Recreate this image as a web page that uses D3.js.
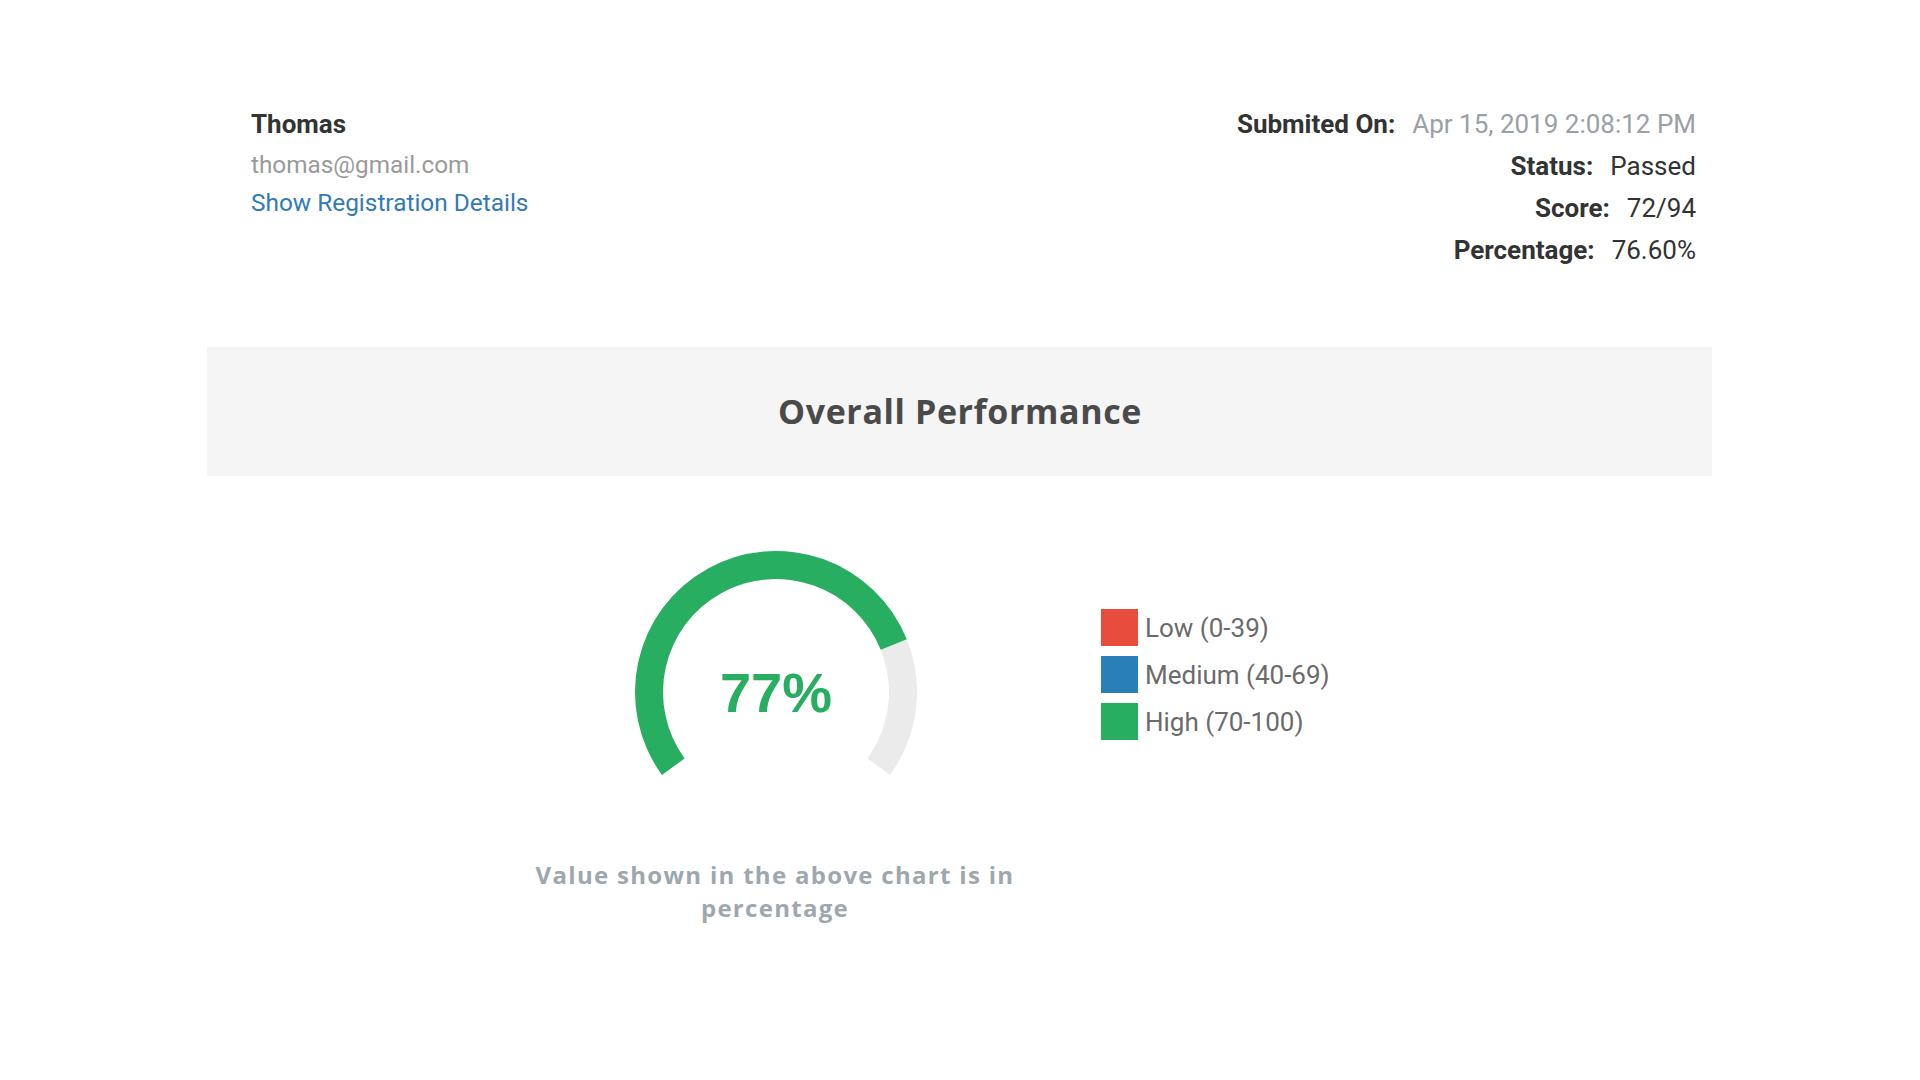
<!DOCTYPE html>
<html>
<head>
<meta charset="utf-8">
<script src="https://cdnjs.cloudflare.com/ajax/libs/d3/7.8.5/d3.min.js"></script>
<style>
  html, body { margin: 0; padding: 0; background: #ffffff; }
  svg { display: block; }
</style>
</head>
<body>
<svg id="chart" width="1920" height="1080"></svg>
<script>
// ---- data ----
const userName = "Thomas";
const userEmail = "thomas@gmail.com";
const linkText = "Show Registration Details";
const infoLabels = ["Submited On:", "Status:", "Score:", "Percentage:"];
const infoValues = ["Apr 15, 2019 2:08:12 PM", "Passed", "72/94", "76.60%"];
const title = "Overall Performance";
const gaugeValue = 77;          // percent
const gaugeMax = 100;
const legendLabels = ["Low (0-39)", "Medium (40-69)", "High (70-100)"];
const legendColors = ["#e74c3c", "#2980b9", "#27ae60"];
const bandThresholds = [40, 70];
const footnote = ["Value shown in the above chart is in", "percentage"];

// ---- drawing ----
const svg = d3.select("#chart");

// header left
const left = svg.append("g").attr("font-family", "Roboto, sans-serif");
left.append("text").attr("x", 251).attr("y", 133).attr("font-size", 26).attr("font-weight", 700)
  .attr("fill", "#333").text(userName);
left.append("text").attr("x", 251).attr("y", 173).attr("font-size", 24.3)
  .attr("fill", "#9a9a9a").text(userEmail);
left.append("text").attr("x", 251).attr("y", 211).attr("font-size", 24.4)
  .attr("fill", "#337ab7").text(linkText);

// header right
const right = svg.append("g").attr("font-family", "Roboto, sans-serif").attr("font-size", 26);
const rowY = d3.scalePoint().domain(d3.range(infoLabels.length)).range([133, 259]);
infoLabels.forEach((lab, i) => {
  const t = right.append("text").attr("x", 1696).attr("y", rowY(i)).attr("text-anchor", "end");
  t.append("tspan").attr("font-weight", 700).attr("fill", "#333").text(lab);
  t.append("tspan").attr("fill", i === 0 ? "#9aa0a6" : "#333").attr("dx", 17).text(infoValues[i]);
});

// title band
svg.append("rect").attr("x", 207).attr("y", 347).attr("width", 1505).attr("height", 129).attr("fill", "#f5f5f5");
svg.append("text").attr("x", 960).attr("y", 424).attr("text-anchor", "middle")
  .attr("font-family", "'Open Sans', sans-serif").attr("font-weight", 700).attr("font-size", 34)
  .attr("letter-spacing", 0.6).attr("fill", "#4a4a4a").text(title);

// gauge
const cx = 776, cy = 692, outerR = 141, innerR = 113;
const angle = d3.scaleLinear().domain([0, gaugeMax]).range([-0.7 * Math.PI, 0.7 * Math.PI]);
const arc = d3.arc().innerRadius(innerR).outerRadius(outerR);
const g = svg.append("g").attr("transform", `translate(${cx},${cy})`);
g.append("path").attr("d", arc({startAngle: angle(0), endAngle: angle(gaugeMax)})).attr("fill", "#ebebeb");
const colorFor = d3.scaleThreshold().domain(bandThresholds).range(legendColors);
g.append("path").attr("d", arc({startAngle: angle(0), endAngle: angle(gaugeValue)})).attr("fill", colorFor(gaugeValue));
g.append("text").attr("x", 0).attr("y", 20).attr("text-anchor", "middle")
  .attr("font-family", "'Liberation Sans', Arial, sans-serif").attr("font-weight", 700).attr("font-size", 56)
  .attr("fill", colorFor(gaugeValue)).text(gaugeValue + "%");

// legend
const legY = d3.scalePoint().domain(d3.range(legendLabels.length)).range([609, 703]);
const leg = svg.append("g").attr("font-family", "Roboto, sans-serif");
legendLabels.forEach((lab, i) => {
  leg.append("rect").attr("x", 1101).attr("y", legY(i)).attr("width", 37).attr("height", 37).attr("fill", legendColors[i]);
  leg.append("text").attr("x", 1145).attr("y", legY(i) + 28).attr("font-size", 26).attr("fill", "#6b6b6b").text(lab);
});

// footnote (wrapped onto two lines)
const fn = svg.append("g").attr("font-family", "'Open Sans', sans-serif").attr("font-weight", 700)
  .attr("font-size", 24).attr("fill", "#9ea7ae").attr("text-anchor", "middle").attr("letter-spacing", 1.3);
footnote.forEach((line, i) => {
  fn.append("text").attr("x", 775).attr("y", 884 + i * 33).text(line);
});
</script>
</body>
</html>
